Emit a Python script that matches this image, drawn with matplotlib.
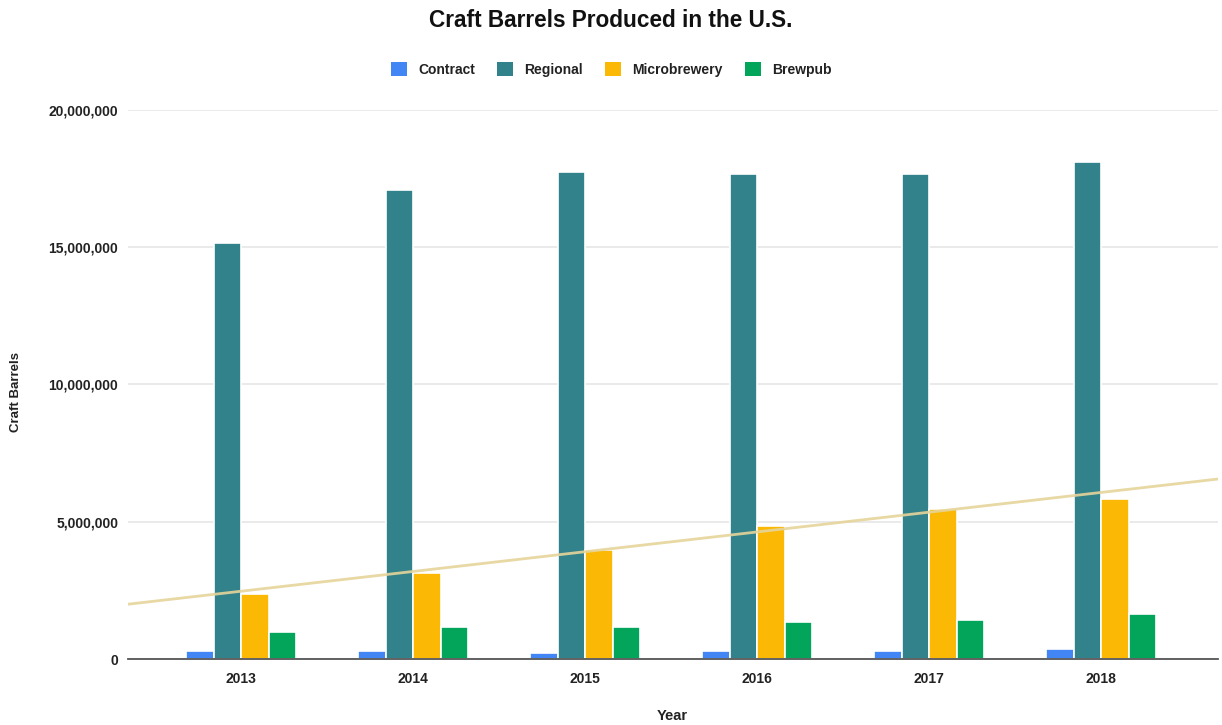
import matplotlib
matplotlib.use("Agg")
import matplotlib.pyplot as plt
import numpy as np
from matplotlib.ticker import FuncFormatter
from matplotlib.patches import Patch

years = ["2013", "2014", "2015", "2016", "2017", "2018"]
contract = [290000, 280000, 220000, 280000, 280000, 360000]
regional = [15150000, 17080000, 17740000, 17670000, 17670000, 18100000]
microbrewery = [2370000, 3130000, 3970000, 4850000, 5460000, 5830000]
brewpub = [980000, 1170000, 1170000, 1350000, 1420000, 1640000]

series_names = ["Contract", "Regional", "Microbrewery", "Brewpub"]
colors = ["#4285F4", "#31828B", "#FBB804", "#02A55A"]
trend_color = "#E6D49A"

plt.rcParams['font.family'] = ['Liberation Sans', 'DejaVu Sans']

fig = plt.figure(figsize=(12.22, 7.25), dpi=100)
ax = fig.add_axes([0.1047, 0.091, 0.892, 0.7575])

x = np.arange(len(years))
width = 0.16
data = [contract, regional, microbrewery, brewpub]
for i, (vals, c) in enumerate(zip(data, colors)):
    ax.bar(x + (i - 1.5) * width, vals, width=width, color=c,
           edgecolor="white", linewidth=1.2, zorder=2)

xlim = (-0.66, 5.68)
coef = np.polyfit(x, microbrewery, 1)
tx = np.array(xlim)
ax.plot(tx, np.polyval(coef, tx), color=trend_color, lw=2, zorder=3, alpha=0.9)

ax.set_xlim(*xlim)
ax.set_ylim(0, 20000000)
ax.set_yticks([0, 5000000, 10000000, 15000000, 20000000])
ax.yaxis.set_major_formatter(FuncFormatter(lambda v, p: f"{int(v):,}"))
ax.set_xticks(x)
ax.set_xticklabels(years)
ax.grid(axis="y", color="#e6e6e6", lw=1.2, zorder=0)
ax.set_axisbelow(True)
for s in ["top", "right", "left"]:
    ax.spines[s].set_visible(False)
ax.spines["bottom"].set_color("#555555")
ax.spines["bottom"].set_linewidth(1.3)
ax.spines["bottom"].set_zorder(4)
ax.tick_params(axis="both", length=0, labelsize=10, colors="#222222")
ax.tick_params(axis="x", pad=9)
ax.tick_params(axis="y", pad=7)
for lbl in ax.get_xticklabels() + ax.get_yticklabels():
    lbl.set_fontweight("bold")

fig.text(0.55, 0.012, "Year", ha="center", va="center", fontsize=10.5,
         fontweight="bold", color="#222222")
fig.text(0.013, 0.46, "Craft Barrels", rotation=90, ha="center", va="center",
         fontsize=9.5, fontweight="bold", color="#222222")
fig.text(0.5, 0.972, "Craft Barrels Produced in the U.S.", ha="center",
         va="center", fontsize=16.3, fontweight="bold", color="#111111")

handles = [Patch(facecolor=c, edgecolor="none", label=n) for n, c in zip(series_names, colors)]
leg = fig.legend(handles=handles, loc="center", bbox_to_anchor=(0.5, 0.904), ncol=4,
                 frameon=False, fontsize=10, handlelength=1.15, handleheight=1.15,
                 columnspacing=1.6, handletextpad=0.8)
for t in leg.get_texts():
    t.set_fontweight("bold")
    t.set_color("#222222")

fig.savefig("out.png", dpi=100, facecolor="white")
